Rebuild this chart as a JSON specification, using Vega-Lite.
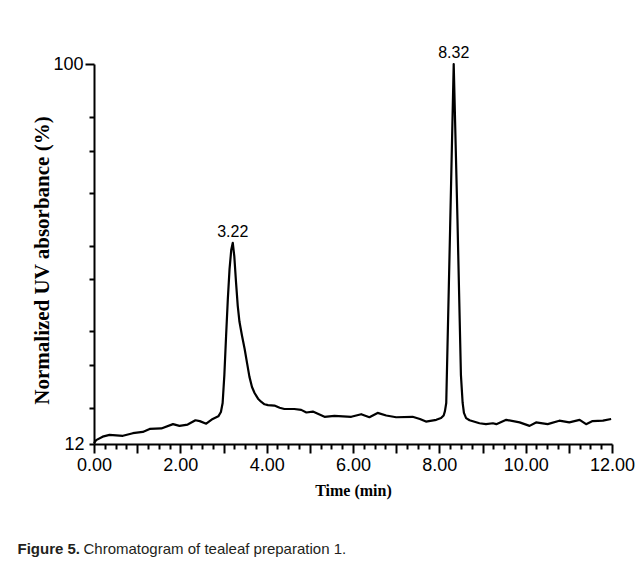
{
  "$schema": "https://vega.github.io/schema/vega-lite/v6.json",
  "width": 518,
  "height": 380,
  "autosize": {"type": "none"},
  "padding": {"left": 94, "top": 64, "right": 29, "bottom": 130},
  "background": "white",
  "config": {"view": {"stroke": null}},
  "resolve": {"axis": {"x": "independent", "y": "independent"}},
  "datasets": {
    "trace": [
      {"t": 0.0, "v": 12.2}, {"t": 0.05, "v": 12.9}, {"t": 0.2, "v": 13.7}, {"t": 0.36, "v": 14.1},
      {"t": 0.67, "v": 13.9}, {"t": 0.9, "v": 14.5}, {"t": 1.13, "v": 14.8}, {"t": 1.29, "v": 15.5},
      {"t": 1.56, "v": 15.6}, {"t": 1.83, "v": 16.6}, {"t": 1.98, "v": 16.2}, {"t": 2.17, "v": 16.5},
      {"t": 2.35, "v": 17.5}, {"t": 2.45, "v": 17.3}, {"t": 2.6, "v": 16.7}, {"t": 2.75, "v": 17.8},
      {"t": 2.88, "v": 18.4}, {"t": 2.94, "v": 19.4}, {"t": 2.98, "v": 21.5}, {"t": 3.02, "v": 28.0},
      {"t": 3.06, "v": 37.0}, {"t": 3.1, "v": 45.5}, {"t": 3.14, "v": 52.5}, {"t": 3.18, "v": 57.0},
      {"t": 3.215, "v": 58.6}, {"t": 3.25, "v": 55.5}, {"t": 3.29, "v": 49.5}, {"t": 3.33, "v": 44.0},
      {"t": 3.37, "v": 40.3}, {"t": 3.43, "v": 37.0}, {"t": 3.49, "v": 34.0}, {"t": 3.55, "v": 30.5},
      {"t": 3.6, "v": 27.6}, {"t": 3.66, "v": 25.2}, {"t": 3.72, "v": 23.8}, {"t": 3.8, "v": 22.5},
      {"t": 3.87, "v": 21.8}, {"t": 3.95, "v": 21.2}, {"t": 4.03, "v": 21.0}, {"t": 4.18, "v": 20.9},
      {"t": 4.3, "v": 20.4}, {"t": 4.41, "v": 20.1}, {"t": 4.64, "v": 20.1}, {"t": 4.8, "v": 19.9},
      {"t": 4.92, "v": 19.3}, {"t": 5.07, "v": 19.5}, {"t": 5.34, "v": 18.3}, {"t": 5.57, "v": 18.5},
      {"t": 5.96, "v": 18.3}, {"t": 6.19, "v": 18.9}, {"t": 6.38, "v": 18.2}, {"t": 6.57, "v": 19.2},
      {"t": 6.77, "v": 18.6}, {"t": 7.0, "v": 18.2}, {"t": 7.38, "v": 18.3}, {"t": 7.55, "v": 17.8},
      {"t": 7.69, "v": 17.2}, {"t": 7.93, "v": 17.6}, {"t": 8.04, "v": 18.0}, {"t": 8.1, "v": 18.6},
      {"t": 8.13, "v": 19.6}, {"t": 8.16, "v": 21.5}, {"t": 8.25, "v": 62.0}, {"t": 8.333, "v": 100.0},
      {"t": 8.42, "v": 64.0}, {"t": 8.5, "v": 28.0}, {"t": 8.54, "v": 21.5}, {"t": 8.57, "v": 19.2},
      {"t": 8.62, "v": 18.0}, {"t": 8.7, "v": 17.5}, {"t": 8.93, "v": 16.8}, {"t": 9.08, "v": 16.6},
      {"t": 9.24, "v": 16.8}, {"t": 9.32, "v": 16.6}, {"t": 9.55, "v": 17.6}, {"t": 9.86, "v": 17.0},
      {"t": 10.09, "v": 16.2}, {"t": 10.24, "v": 17.0}, {"t": 10.51, "v": 16.6}, {"t": 10.78, "v": 17.4},
      {"t": 11.01, "v": 17.0}, {"t": 11.25, "v": 17.6}, {"t": 11.4, "v": 16.6}, {"t": 11.55, "v": 17.3},
      {"t": 11.79, "v": 17.4}, {"t": 11.98, "v": 17.8}
    ],
    "peaks": [
      {"t": 3.215, "v": 58.6, "label": "3.22"},
      {"t": 8.333, "v": 100.0, "label": "8.32"}
    ]
  },
  "layer": [
    {
      "data": {"name": "trace"},
      "mark": {"type": "line", "color": "black", "strokeWidth": 2.2, "strokeJoin": "round", "clip": false},
      "encoding": {
        "x": {
          "field": "t", "type": "quantitative",
          "scale": {"domain": [0, 12], "nice": false, "zero": false},
          "axis": {
            "orient": "bottom",
            "title": "Time (min)",
            "values": [0,0.25,0.5,0.75,1,1.25,1.5,1.75,2,2.25,2.5,2.75,3,3.25,3.5,3.75,4,4.25,4.5,4.75,5,5.25,5.5,5.75,6,6.25,6.5,6.75,7,7.25,7.5,7.75,8,8.25,8.5,8.75,9,9.25,9.5,9.75,10,10.25,10.5,10.75,11,11.25,11.5,11.75,12],
            "labelExpr": "datum.value % 2 == 0 ? format(datum.value, '.2f') : ''",
            "labelOverlap": false,
            "labelFlush": false,
            "tickSize": {"condition": {"test": "datum.value % 1 == 0", "value": 9}, "value": 5},
            "tickWidth": 2,
            "tickColor": "black",
            "domainColor": "black",
            "domainWidth": 2,
            "grid": false,
            "labelFont": "Liberation Sans, Arial, sans-serif",
            "labelFontSize": 18,
            "labelColor": "black",
            "labelPadding": 3,
            "titleFont": "Liberation Serif, Times New Roman, serif",
            "titleFontSize": 16,
            "titleFontWeight": "bold",
            "titleColor": "black",
            "titlePadding": 8
          }
        },
        "y": {
          "field": "v", "type": "quantitative",
          "scale": {"domain": [12, 100], "nice": false, "zero": false},
          "axis": {
            "orient": "left",
            "title": "Normalized UV absorbance (%)",
            "values": [12, 20.3, 30.3, 38.2, 50.2, 57.9, 70.1, 79.9, 87.7, 100],
            "labelExpr": "datum.value == 12 || datum.value == 100 ? format(datum.value, 'd') : ''",
            "labelOverlap": false,
            "labelFlush": false,
            "tickSize": {"condition": {"test": "datum.value == 100", "value": 9}, "value": 5},
            "tickWidth": 2,
            "tickColor": "black",
            "domainColor": "black",
            "domainWidth": 2,
            "grid": false,
            "labelFont": "Liberation Sans, Arial, sans-serif",
            "labelFontSize": 18,
            "labelColor": "black",
            "labelPadding": {"condition": {"test": "datum.value == 12", "value": 5}, "value": 2},
            "titleFont": "Liberation Serif, Times New Roman, serif",
            "titleFontSize": 21,
            "titleFontWeight": "bold",
            "titleColor": "black",
            "titleX": -52,
            "titleY": 196,
            "titleBaseline": "middle",
            "titleAlign": "center"
          }
        }
      }
    },
    {
      "data": {"name": "peaks"},
      "mark": {"type": "text", "baseline": "alphabetic", "dy": -6, "font": "Liberation Sans, Arial, sans-serif", "fontSize": 16, "color": "black", "clip": false},
      "encoding": {
        "x": {
          "field": "t", "type": "quantitative",
          "axis": {
            "orient": "bottom",
            "domain": false, "ticks": false, "labels": false, "grid": false,
            "title": "Figure 5.",
            "titleX": -77, "titleY": 104,
            "titleAlign": "left", "titleBaseline": "middle", "titleAngle": 0,
            "titleFont": "Liberation Sans, Arial, sans-serif",
            "titleFontSize": 15, "titleFontWeight": "bold", "titleColor": "#231f20"
          }
        },
        "y": {
          "field": "v", "type": "quantitative",
          "axis": {
            "orient": "left",
            "domain": false, "ticks": false, "labels": false, "grid": false,
            "title": "Chromatogram of tealeaf preparation 1.",
            "titleX": -11, "titleY": 484,
            "titleAlign": "left", "titleBaseline": "middle", "titleAngle": 0,
            "titleFont": "Liberation Sans, Arial, sans-serif",
            "titleFontSize": 15, "titleFontWeight": "normal", "titleColor": "#231f20"
          }
        },
        "text": {"field": "label"}
      }
    }
  ]
}
